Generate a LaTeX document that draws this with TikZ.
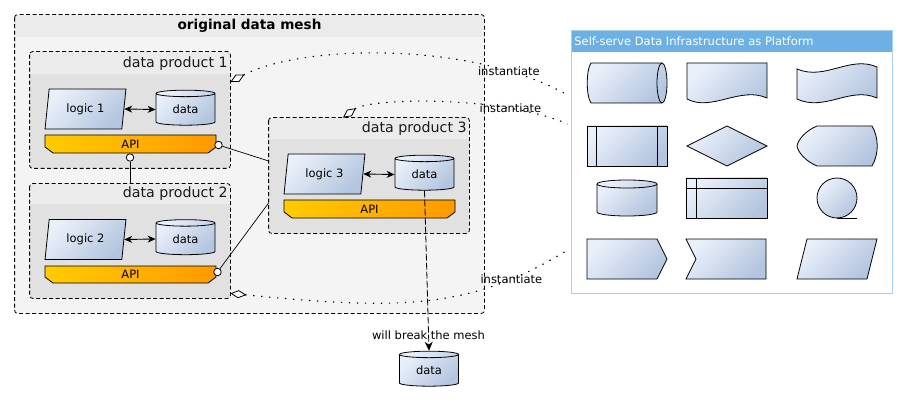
\documentclass[tikz,border=0pt]{standalone}
\usepackage{fontspec}
\setmainfont{DejaVu Sans}
\usetikzlibrary{shapes.geometric, arrows.meta}
\definecolor{meshbody}{HTML}{F4F4F4}
\definecolor{meshhdr}{HTML}{EBEBEB}
\definecolor{dpbody}{HTML}{E1E1E1}
\definecolor{dphdr}{HTML}{EBEBEB}
\definecolor{shL}{HTML}{EAF0FA}
\definecolor{shD}{HTML}{B3C5DF}
\definecolor{apiL}{HTML}{FFCC00}
\definecolor{apiR}{HTML}{FF9900}
\definecolor{platHdr}{HTML}{6CB0E4}
\definecolor{platBorder}{HTML}{A4CFF2}
\begin{document}
\begin{tikzpicture}[x=1pt,y=-1pt,line width=0.8pt,
  txt/.style={font=\fontsize{11.5}{13}\selectfont, text=black},
  dptitle/.style={font=\fontsize{14.2}{16}\selectfont, text=black!90, anchor=east, inner sep=0},
  blueshade/.style={draw=black, top color=shL, bottom color=shD, shading angle=45},
  apishade/.style={draw=black, left color=apiL, right color=apiR},
  logicbox/.style={trapezium, trapezium left angle=79, trapezium right angle=101, trapezium stretches=true, minimum width=81pt, minimum height=40pt, inner sep=0, blueshade, txt},
  dbbox/.style={cylinder, shape border rotate=90, aspect=0.25, minimum width=59pt, minimum height=35pt, inner sep=0, blueshade, txt},
  lolli/.style={circle, draw, fill=white, minimum size=7.5pt, inner sep=0},
  dashbox/.style={dash pattern=on 4pt off 2.5pt, rounded corners=3pt, line width=0.8pt},
  dots/.style={dash pattern=on 1.4pt off 6.6pt, line width=1.1pt},
  inst/.style={{Diamond[open,fill=white,length=16pt,width=8pt,line width=0.8pt]}-, dots},
  dblarrow/.style={{Stealth[length=8pt,width=7pt]}-{Stealth[length=8pt,width=7pt]}, line width=0.9pt},
]
\useasboundingbox (0,0) rectangle (907,406);

% ---------------- original data mesh ----------------
\node[rectangle, fill=meshbody, minimum width=469pt, minimum height=298pt, inner sep=0] (mesh) at (249.5,164) {};
\fill[meshhdr] (15,37) [rounded corners=3pt]-- (15,15) -- (484,15) [sharp corners]-- (484,37) -- cycle;
\draw[dashbox] (mesh.north west) rectangle (mesh.south east);
\node[font=\bfseries\fontsize{13.6}{16}\selectfont, inner sep=0] (meshtitle) at (249.5,26) {original data mesh};

% ---------------- data product 1 ----------------
\node[rectangle, fill=dpbody, minimum width=200pt, minimum height=116pt, inner sep=0] (dp1) at (130,110) {};
\fill[dphdr] (30,74) [rounded corners=3pt]-- (30,52) -- (230,52) [sharp corners]-- (230,74) -- cycle;
\draw[dashbox] (dp1.north west) rectangle (dp1.south east);
\node[dptitle] (dp1t) at (228,64) {data product 1};
\node[logicbox] (logic1) at (85.5,109) {logic 1};
\node[dbbox] (data1) at (185.5,109.5) {data};
\draw[dblarrow] (logic1.east) -- (data1.west);
\path[apishade] (45,135) -- (216,135) -- (216,147) -- (208,153) -- (53,153) -- (45,147) -- cycle;
\node[txt, inner sep=0] (api1) at (130.5,144) {API};

% ---------------- data product 2 ----------------
\node[rectangle, fill=dpbody, minimum width=200pt, minimum height=114pt, inner sep=0] (dp2) at (130,241) {};
\fill[dphdr] (30,204) [rounded corners=3pt]-- (30,184) -- (230,184) [sharp corners]-- (230,204) -- cycle;
\draw[dashbox] (dp2.north west) rectangle (dp2.south east);
\node[dptitle] (dp2t) at (228,194) {data product 2};
\node[logicbox] (logic2) at (85.5,239.5) {logic 2};
\node[dbbox] (data2) at (185.5,239) {data};
\draw[dblarrow] (logic2.east) -- (data2.west);
\path[apishade] (45,266) -- (216,266) -- (216,277) -- (208,283) -- (53,283) -- (45,277) -- cycle;
\node[txt, inner sep=0] (api2) at (130.5,274.5) {API};

% ---------------- data product 3 ----------------
\node[rectangle, fill=dpbody, minimum width=200pt, minimum height=115pt, inner sep=0] (dp3) at (369,175.5) {};
\fill[dphdr] (269,139) [rounded corners=3pt]-- (269,118) -- (469,118) [sharp corners]-- (469,139) -- cycle;
\draw[dashbox] (dp3.north west) rectangle (dp3.south east);
\node[dptitle] (dp3t) at (467,129) {data product 3};
\node[logicbox] (logic3) at (324.5,174) {logic 3};
\node[dbbox] (data3) at (424.5,174.5) {data};
\draw[dblarrow] (logic3.east) -- (data3.west);
\path[apishade] (284,200) -- (455,200) -- (455,212) -- (447,218) -- (292,218) -- (284,212) -- cycle;
\node[txt, inner sep=0] (api3) at (369.5,209) {API};

% ---------------- API links ----------------
\node[lolli] (c1r) at (218.5,145) {};
\node[lolli] (c1b) at (130,157.5) {};
\node[lolli] (c2r) at (217.5,272) {};
\draw[line width=0.7pt] (c1r) -- ([yshift=14.5pt]dp3.west);
\draw[line width=0.7pt] (c2r) -- ([yshift=-27.5pt]dp3.west);
\draw[line width=0.7pt] (c1b) -- (c1b |- dp2.north);

% ---------------- bottom data ----------------
\node[dbbox] (datab) at (429,370.5) {data};
\draw[dash pattern=on 7pt off 2pt, line width=0.8pt, -{Stealth[length=9pt,width=8pt]}] (data3.south) -- (datab.north)
  node[txt, pos=0.9, inner sep=0] (breaklbl) {will break the mesh};

% ---------------- platform ----------------
\node[rectangle, minimum width=320pt, minimum height=262pt, inner sep=0] (plat) at (732,162) {};
\fill[platHdr] (572,31) rectangle (892,52);
\draw[platBorder, line width=1pt] (plat.north west) rectangle (plat.south east);
\node[txt, text=white, anchor=west, inner sep=0] (plattitle) at (574,41.5) {Self-serve Data Infrastructure as Platform};

% row 1
\path[blueshade] (591,63) -- (662,63) arc[start angle=90, end angle=-90, x radius=5pt, y radius=20pt] -- (591,103) .. controls (586,96) and (586,70) .. (591,63) -- cycle;
\draw (662,103) arc[start angle=-90, end angle=-270, x radius=5pt, y radius=20pt];
\path[blueshade] (687,63) -- (767,63) -- (767,98) .. controls (740,86) and (712,112) .. (687,99) -- cycle;
\path[blueshade] (797,69) .. controls (825,81) and (850,55) .. (877,67) -- (877,98) .. controls (850,86) and (825,112) .. (797,99) -- cycle;
% row 2
\path[blueshade] (587,126) rectangle (667,166);
\draw (596.5,126) -- (596.5,166) (657.5,126) -- (657.5,166);
\path[blueshade] (727,126) -- (767,146) -- (727,166) -- (687,146) -- cycle;
\path[blueshade] (817,126) -- (872,126) .. controls (879,138) and (879,154) .. (872,166) -- (817,166) .. controls (805,161) and (798,152) .. (797,146) .. controls (798,140) and (805,131) .. (817,126) -- cycle;
% row 3
\path[blueshade] (597,184) -- (597,212) arc[start angle=180, end angle=360, x radius=30pt, y radius=4pt] -- (657,184) arc[start angle=0, end angle=180, x radius=30pt, y radius=4pt] -- cycle;
\draw (597,184) arc[start angle=180, end angle=360, x radius=30pt, y radius=4pt];
\path[blueshade] (686,178) rectangle (767,218);
\draw (696.5,178) -- (696.5,218) (686,188) -- (767,188);
\path[blueshade] (837,198) circle[radius=20pt];
\draw (837,218) -- (857,218);
% row 4
\path[blueshade] (587,239) -- (657,239) -- (667,259) -- (657,279) -- (587,279) -- cycle;
\path[blueshade] (686,239) -- (766,239) -- (766,279) -- (686,279) -- (696,259) -- cycle;
\path[blueshade] (797,279) -- (807,239) -- (877,239) -- (867,279) -- cycle;

% ---------------- instantiate connectors ----------------
\draw[inst] ([yshift=28pt]dp1.east) .. controls (300,45) and (470,40) .. ([xshift=-4pt,yshift=67pt]plat.west)
  node[txt, pos=0.82, inner sep=0] (inst1) {instantiate};
\draw[inst] ([xshift=-26pt]dp3.north) .. controls (370,98) and (500,95) .. ([xshift=-4pt,yshift=38pt]plat.west)
  node[txt, pos=0.76, inner sep=0] (inst2) {instantiate};
\draw[inst] ([yshift=5pt]dp2.south east) .. controls (400,310) and (470,310) .. ([xshift=-4pt,yshift=-88pt]plat.west)
  node[txt, pos=0.8, inner sep=0] (inst3) {instantiate};
\end{tikzpicture}
\end{document}
